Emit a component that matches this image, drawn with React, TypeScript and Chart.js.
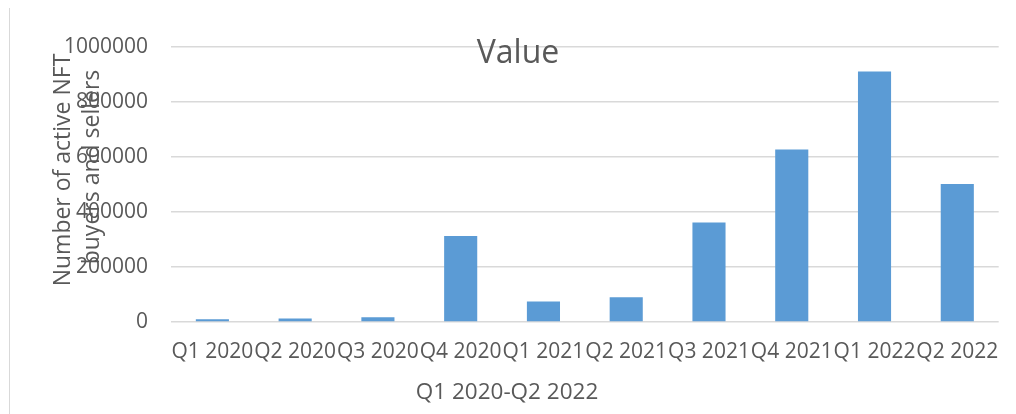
import React, { useEffect, useRef } from "react";
import { Chart, registerables } from "chart.js";

Chart.register(...registerables);

const categories = [
  "Q1 2020", "Q2 2020", "Q3 2020", "Q4 2020", "Q1 2021",
  "Q2 2021", "Q3 2021", "Q4 2021", "Q1 2022", "Q2 2022",
];
const values = [10000, 13000, 17000, 313000, 75000, 90000, 362000, 627000, 911000, 502000];
const chartTitle = "Value";
const xTitle = "Q1 2020-Q2 2022";
const yTitleLines = ["Number of active NFT", "buyers and sellers"];

const FONT = "'Open Sans', sans-serif";
const TEXT = "#595959";

const overlayText = {
  id: "overlayText",
  beforeDraw(chart: any) {
    const ctx = chart.ctx;
    ctx.save();
    ctx.strokeStyle = "#d9d9d9";
    ctx.lineWidth = 1;
    ctx.beginPath();
    ctx.moveTo(1.5, chart.height);
    ctx.lineTo(1.5, 0.5);
    ctx.lineTo(chart.width, 0.5);
    ctx.stroke();
    ctx.restore();
  },
  afterDraw(chart: any) {
    const ctx = chart.ctx;
    ctx.save();
    ctx.fillStyle = TEXT;
    ctx.textAlign = "center";
    ctx.textBaseline = "alphabetic";
    ctx.font = `32px ${FONT}`;
    ctx.fillText(chartTitle, 510, 56);
    ctx.font = `22.5px ${FONT}`;
    ctx.fillText(xTitle, 499, 392);
    ctx.font = `23px ${FONT}`;
    const pos = [
      [62, 163],
      [91, 160],
    ];
    yTitleLines.forEach((t, i) => {
      ctx.save();
      ctx.translate(pos[i][0], pos[i][1]);
      ctx.rotate(-Math.PI / 2);
      ctx.fillText(t, 0, 0);
      ctx.restore();
    });
    ctx.restore();
  },
};

export default function App() {
  const ref = useRef<HTMLCanvasElement>(null);
  useEffect(() => {
    if (!ref.current) return;
    const chart = new Chart(ref.current, {
      type: "bar",
      data: {
        labels: categories,
        datasets: [
          {
            data: values,
            backgroundColor: "#5B9BD5",
            borderWidth: 0,
            categoryPercentage: 1,
            barPercentage: 0.4,
          },
        ],
      },
      options: {
        animation: false,
        responsive: false,
        maintainAspectRatio: false,
        layout: { padding: { left: 0, right: 16, top: 40, bottom: 0 } },
        plugins: {
          legend: { display: false },
          title: { display: false },
          tooltip: { enabled: false },
        },
        scales: {
          x: {
            grid: { display: false, drawTicks: false },
            border: { display: false },
            ticks: {
              color: TEXT,
              font: { family: FONT, size: 21 },
              padding: 17,
              maxRotation: 0,
              minRotation: 0,
              autoSkip: false,
            },
            afterFit: (s: any) => {
              s.height = 92;
            },
          },
          y: {
            min: 0,
            max: 1000000,
            grid: { color: "#d9d9d9", lineWidth: 1.5, drawTicks: false },
            border: { display: false },
            ticks: {
              stepSize: 200000,
              color: TEXT,
              font: { family: FONT, size: 21 },
              padding: 23,
              callback: (v: any) => String(v),
            },
            afterFit: (s: any) => {
              s.width = 163;
            },
          },
        },
      },
      plugins: [overlayText],
    });
    return () => chart.destroy();
  }, []);

  return (
    <div
      style={{
        position: "relative",
        width: 1008,
        height: 407,
        marginTop: -1,
        overflow: "hidden",
        background: "#fff",
      }}
    >
      <canvas ref={ref} width={1008} height={407} style={{ display: "block" }} />
    </div>
  );
}
